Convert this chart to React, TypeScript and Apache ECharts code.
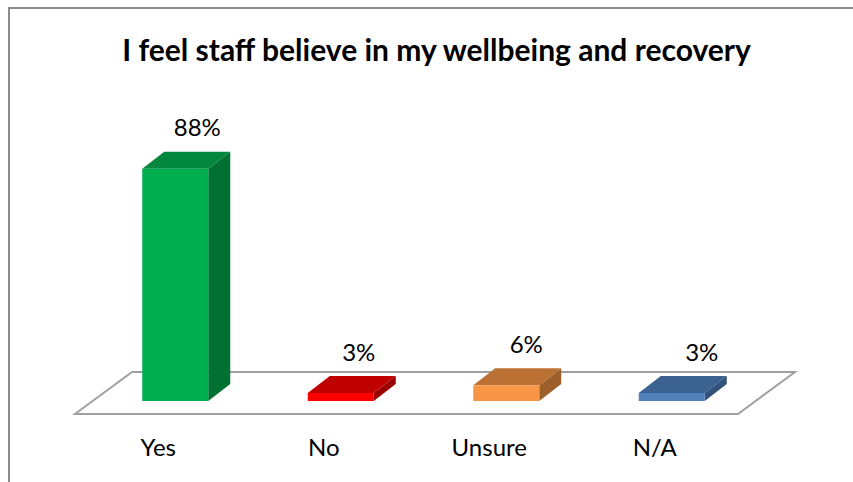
import React, { useEffect, useRef } from "react";
import * as echarts from "echarts";

const titleText = "I feel staff believe in my wellbeing and recovery";
const categories = ["Yes", "No", "Unsure", "N/A"];
const percentValues = [88, 3, 6, 3];
const frontColors = ["#00B050", "#FF0000", "#F79646", "#4F81BD"];
const topColors = ["#00863D", "#C00000", "#BC7134", "#3B6290"];
const sideColors = ["#007033", "#9A0000", "#9E602B", "#31527A"];
const labelShiftX = [22, 18, 20, 30];

const FONT = "Lato, 'Open Sans', sans-serif";
const DEPTH_X = 22;
const DEPTH_Y = 17;
const BAR_W = 66;

function renderBar(params: any, api: any) {
  const i = params.dataIndex;
  const [cx, yTop] = api.coord([api.value(0), api.value(1)]);
  const [, yBase] = api.coord([api.value(0), 0]);
  const l = cx - BAR_W / 2;
  const r = cx + BAR_W / 2;
  return {
    type: "group",
    children: [
      {
        type: "polygon",
        shape: { points: [[r, yTop], [r + DEPTH_X, yTop - DEPTH_Y], [r + DEPTH_X, yBase - DEPTH_Y], [r, yBase]] },
        style: { fill: sideColors[i] },
      },
      {
        type: "polygon",
        shape: { points: [[l, yTop], [l + DEPTH_X, yTop - DEPTH_Y], [r + DEPTH_X, yTop - DEPTH_Y], [r, yTop]] },
        style: { fill: topColors[i] },
      },
      {
        type: "rect",
        shape: { x: l, y: yTop, width: BAR_W, height: yBase - yTop },
        style: { fill: frontColors[i] },
      },
      {
        type: "text",
        x: cx + labelShiftX[i],
        y: yTop - DEPTH_Y - 25,
        style: {
          text: api.value(1) + "%",
          fill: "#000",
          font: `24px ${FONT}`,
          align: "center",
          verticalAlign: "middle",
        },
      },
    ],
  };
}

export default function App() {
  const ref = useRef<HTMLDivElement>(null);
  useEffect(() => {
    const chart = echarts.init(ref.current!, undefined, { renderer: "svg" });
    chart.setOption({
      animation: false,
      backgroundColor: "#fff",
      title: {
        text: titleText,
        left: 431.5,
        top: 29,
        textAlign: "center",
        textStyle: { fontFamily: FONT, fontWeight: "bold", fontSize: 30, color: "#000" },
      },
      grid: { left: 92.5, width: 662, top: 137, height: 264 },
      xAxis: {
        type: "category",
        data: categories,
        axisLine: { show: false },
        axisTick: { show: false },
        axisLabel: {
          margin: 33,
          padding: [0, 34, 0, 0],
          fontFamily: FONT,
          fontSize: 24,
          color: "#000",
        },
      },
      yAxis: { type: "value", min: 0, max: 100, show: false },
      graphic: [
        {
          type: "polyline",
          z: 0,
          silent: true,
          shape: { points: [[9, 482], [9, 8], [853, 8]] },
          style: { stroke: "#8C8C8C", lineWidth: 2, fill: "none" },
        },
        {
          type: "polygon",
          z: 0,
          silent: true,
          shape: { points: [[75, 414], [132, 372], [795, 372], [738, 414]] },
          style: { stroke: "#A0A0A0", lineWidth: 2, fill: "#fff" },
        },
      ],
      series: [
        {
          type: "custom",
          z: 5,
          renderItem: renderBar,
          encode: { x: 0, y: 1 },
          data: categories.map((c, i) => [i, percentValues[i]]),
        },
      ],
    });
    return () => chart.dispose();
  }, []);
  return (
    <div
      ref={ref}
      style={{ position: "fixed", left: 0, top: 0, width: 853, height: 482 }}
    />
  );
}
